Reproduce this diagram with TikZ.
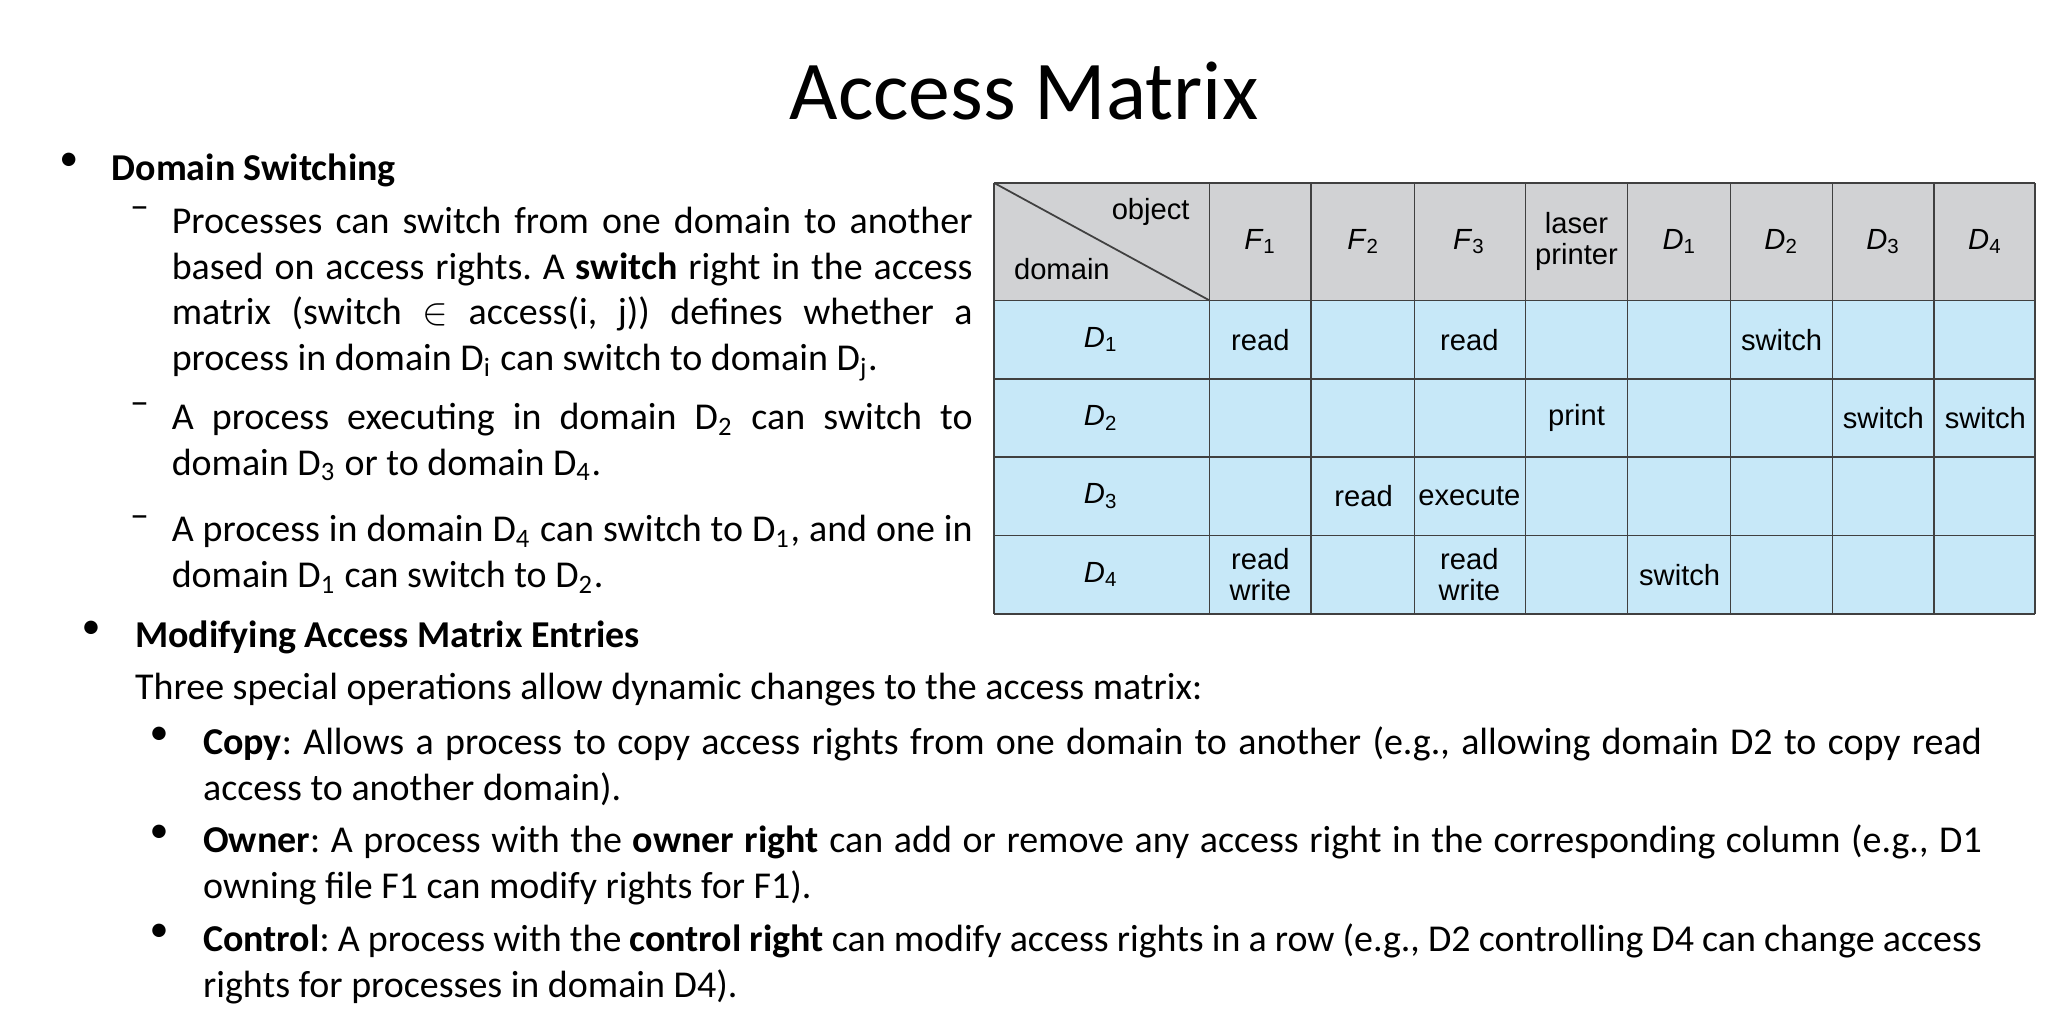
\documentclass[tikz,border=0pt]{standalone}
\usepackage{fontspec}
\setmainfont{Carlito}
\newfontfamily\tabfont{Liberation Sans}
\definecolor{hdr}{HTML}{D1D2D4}
\definecolor{cellb}{HTML}{C7E8F8}
\hyphenpenalty=10000
\exhyphenpenalty=10000
\frenchspacing
\begin{document}
\begin{tikzpicture}[x=0.013061cm,y=-0.013061cm,
  para/.style={anchor=north west,inner sep=0pt,font=\fontsize{10.8}{13}\selectfont,align=justify},
  lbl/.style={anchor=north west,inner sep=0pt,font=\fontsize{10.8}{13}\selectfont},
  cell/.style={font=\tabfont\fontsize{8.3}{9}\selectfont,inner sep=0pt,align=center}]
\useasboundingbox (0,0) rectangle (1568,784);
\node[font=\fontsize{23.8}{28}\selectfont] (title) at (784,70) {Access Matrix};
% left block
\node[lbl] (b1) at (45,117) {\textbullet};
\node[lbl] (h1) at (85,117) {\textbf{Domain Switching}};
\node[lbl] (d1) at (99,158) {\textendash};
\node[para,text width=615*0.3705pt] (p1) at (131,158) {Processes can switch from one domain to another based on access rights. A \textbf{switch} right in the access matrix (switch $\in$ access(i, j)) defines whether a process in domain D\textsubscript{i} can switch to domain D\textsubscript{j}.};
\node[lbl] (d2) at (99,308) {\textendash};
\node[para,text width=615*0.3705pt] (p2) at (131,308) {A process executing in domain D\textsubscript{2} can switch to domain D\textsubscript{3} or to domain D\textsubscript{4}.};
\node[lbl] (d3) at (99,394) {\textendash};
\node[para,text width=615*0.3705pt] (p3) at (131,394) {A process in domain D\textsubscript{4} can switch to D\textsubscript{1}, and one in domain D\textsubscript{1} can switch to D\textsubscript{2}.};
% bottom block
\node[lbl] (b2) at (62,475) {\textbullet};
\node[lbl] (h2) at (103,475) {\textbf{Modifying Access Matrix Entries}};
\node[lbl] (t2) at (103,515) {Three special operations allow dynamic changes to the access matrix:};
\node[lbl] (s1) at (114,556) {\textbullet};
\node[para,text width=1366*0.3705pt] (q1) at (155,556) {\textbf{Copy}: Allows a process to copy access rights from one domain to another (e.g., allowing domain D2 to copy read access to another domain).};
\node[lbl] (s2) at (114,631) {\textbullet};
\node[para,text width=1366*0.3705pt] (q2) at (155,631) {\textbf{Owner}: A process with the \textbf{owner right} can add or remove any access right in the corresponding column (e.g., D1 owning file F1 can modify rights for F1).};
\node[lbl] (s3) at (114,707) {\textbullet};
\node[para,text width=1366*0.3705pt] (q3) at (155,707) {\textbf{Control}: A process with the \textbf{control right} can modify access rights in a row (e.g., D2 controlling D4 can change access rights for processes in domain D4).};
% table
\fill[hdr] (761,140) rectangle (1558,230);
\fill[cellb] (761,230) rectangle (1558,470);
\foreach \x in {761,926,1004,1083,1168,1246,1325,1403,1481,1558} \draw[black!75,line width=0.5pt] (\x,140) -- (\x,470);
\foreach \y in {140,230,290,350,410,470} \draw[black!75,line width=0.5pt] (761,\y) -- (1558,\y);
\draw[black!75,line width=0.5pt] (761,140) -- (926,230);
\node[cell] (obj) at (881,162) {object};
\node[cell] (dom) at (813,206) {domain};
\foreach \x/\t in {965/\textit{F}\textsubscript{1},1044/\textit{F}\textsubscript{2},1125/\textit{F}\textsubscript{3},1207/{laser\\printer},1286/\textit{D}\textsubscript{1},1364/\textit{D}\textsubscript{2},1442/\textit{D}\textsubscript{3},1520/\textit{D}\textsubscript{4}}
  \node[cell] at (\x,185) {\t};
\foreach \y/\i in {260/1,320/2,380/3,440/4} \node[cell] at (843,\y) {\textit{D}\textsubscript{\i}};
\node[cell] (r11) at (965,260) {read};
\node[cell] (r13) at (1125,260) {read};
\node[cell] (r1d2) at (1364,260) {switch};
\node[cell] (r2p) at (1207,320) {print};
\node[cell] (r2d3) at (1442,320) {switch};
\node[cell] (r2d4) at (1520,320) {switch};
\node[cell] (r32) at (1044,380) {read};
\node[cell] (r33) at (1125,380) {execute};
\node[cell] (r41) at (965,440) {read\\write};
\node[cell] (r43) at (1125,440) {read\\write};
\node[cell] (r4d1) at (1286,440) {switch};
\end{tikzpicture}
\end{document}
